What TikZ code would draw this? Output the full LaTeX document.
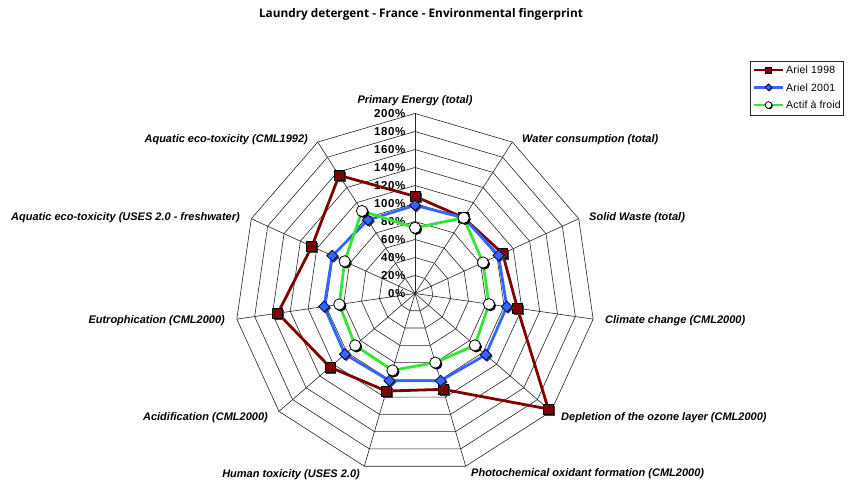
\documentclass[tikz,border=0pt]{standalone}
\usepackage{fontspec}
\usetikzlibrary{calc}
\setmainfont{Liberation Sans}
\newfontfamily\titlefont{Open Sans}
\definecolor{c98}{HTML}{800000}
\definecolor{c01}{HTML}{3366FF}
\definecolor{cact}{HTML}{33E633}
\tikzset{
  gridline/.style={draw=black!85, line width=0.6},
  txt/.style={inner sep=0pt, font=\fontsize{11}{13}\selectfont\bfseries\itshape},
  pct/.style={inner sep=0pt, anchor=east, font=\addfontfeature{LetterSpace=5}\fontsize{11.5}{13}\selectfont\bfseries},
  titlestyle/.style={inner sep=0pt, anchor=base, font=\titlefont\bfseries\fontsize{11.8}{13}\selectfont},
  legtxt/.style={inner sep=0pt, anchor=base west, font=\addfontfeature{LetterSpace=2}\fontsize{10.5}{12}\selectfont},
  l98/.style={draw=c98, line width=2.8, line join=round},
  l01/.style={draw=c01, line width=2.8, line join=round},
  lact/.style={draw=cact, line width=2.8, line join=round},
  msq/.pic={\fill[black!75] (-3.5,-6.5) rectangle (6.5,3.5);
            \filldraw[fill=c98, draw=black, line width=0.8] (-5,-5) rectangle (5,5);},
  mdi/.pic={\fill[black!75] (1.5,4) -- (7,-1.5) -- (1.5,-7) -- (-4,-1.5) -- cycle;
            \filldraw[fill=c01, draw=black!70!blue, line width=0.8] (0,5.5) -- (5.5,0) -- (0,-5.5) -- (-5.5,0) -- cycle;},
  mci/.pic={\fill[black] (1.5,-1.5) circle (5.6);
            \filldraw[fill=white, draw=black, line width=0.8] (0,0) circle (5.6);},
  legbox/.style={draw=black!85, line width=0.6, fill=white, minimum width=93, minimum height=54, inner sep=0pt}
}
\begin{document}
\begin{tikzpicture}[x=1pt,y=1pt]
\useasboundingbox (0,0) rectangle (850,495);
\fill[white] (0,0) rectangle (850,495);
\node[titlestyle] (title) at (421,477) {Laundry detergent - France - Environmental fingerprint};
\begin{scope}[shift={(415,201.5)}]
  \foreach \k in {1,...,10}{
    \draw[gridline] (90:{\k*18}) \foreach \i in {1,...,10}{ -- ({90-\i*360/11}:{\k*18})} -- cycle;
  }
  \foreach \i in {0,...,10} \draw[gridline] (0,0) -- ({90-\i*360/11}:180);
  \foreach \k in {0,...,10}{
    \pgfmathtruncatemacro\pv{\k*20}
    \node[pct] (pct\k) at (-9.5,\k*18) {\pv\%};
  }
  \foreach \v [count=\i from 0] in {108,100,107,115,196,111,113,125,154,126,156}
    \coordinate (a\i) at ({90-\i*360/11}:{\v*0.9});
  \foreach \v [count=\i from 0] in {98,100,102,103,104,101,101,103,102,101,97}
    \coordinate (b\i) at ({90-\i*360/11}:{\v*0.9});
  \foreach \v [count=\i from 0] in {73,100,83,83,88,80,89,88,85,86,109}
    \coordinate (c\i) at ({90-\i*360/11}:{\v*0.9});
  \draw[l98] (a0) \foreach \i in {1,...,10}{ -- (a\i)} -- cycle;
  \foreach \i in {0,...,10} \pic at (a\i) {msq};
  \draw[l01] (b0) \foreach \i in {1,...,10}{ -- (b\i)} -- cycle;
  \foreach \i in {0,...,10} \pic at (b\i) {mdi};
  \draw[lact] (c0) \foreach \i in {1,...,10}{ -- (c\i)} -- cycle;
  \foreach \i in {0,...,10} \pic at (c\i) {mci};
\end{scope}
% axis labels
\node[txt, anchor=base] (lprim) at (415,391) {Primary Energy (total)};
\node[txt, anchor=base west] (lwater) at (522,352) {Water consumption (total)};
\node[txt, anchor=base west] (lsolid) at (589,274) {Solid Waste (total)};
\node[txt, anchor=base west] (lclim) at (605,171) {Climate change (CML2000)};
\node[txt, anchor=base west] (lozone) at (561,75) {Depletion of the ozone layer (CML2000)};
\node[txt, anchor=base west] (lphoto) at (471,19) {Photochemical oxidant formation (CML2000)};
\node[txt, anchor=base east] (lhuman) at (360,18) {Human toxicity (USES 2.0)};
\node[txt, anchor=base east] (lacid) at (268,75) {Acidification (CML2000)};
\node[txt, anchor=base east] (leutro) at (225,171) {Eutrophication (CML2000)};
\node[txt, anchor=base east] (luses) at (240,274) {Aquatic eco-toxicity (USES 2.0 - freshwater)};
\node[txt, anchor=base east] (lcml) at (308,352) {Aquatic eco-toxicity (CML1992)};
% legend
\node[legbox] (legend) at (796.5,407) {};
\coordinate (g1a) at (754,425); \coordinate (g1b) at (783,425);
\coordinate (g2a) at (754,407.7); \coordinate (g2b) at (783,407.7);
\coordinate (g3a) at (754,390); \coordinate (g3b) at (783,390);
\draw[l98] (g1a) -- (g1b);
\pic[scale=0.6] at ($(g1a)!0.5!(g1b)$) {msq};
\draw[l01] (g2a) -- (g2b);
\pic[scale=0.6] at ($(g2a)!0.5!(g2b)$) {mdi};
\draw[lact] (g3a) -- (g3b);
\pic[scale=0.6] at ($(g3a)!0.5!(g3b)$) {mci};
\node[legtxt] (t1) at (786,421) {Ariel 1998};
\node[legtxt] (t2) at (786,403.7) {Ariel 2001};
\node[legtxt] (t3) at (786,386) {Actif à froid};
\end{tikzpicture}
\end{document}
